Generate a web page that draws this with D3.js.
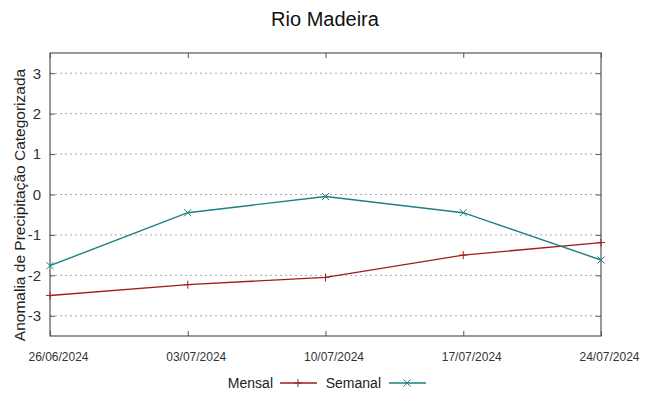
<!DOCTYPE html>
<html>
<head>
<meta charset="utf-8">
<script src="https://cdn.jsdelivr.net/npm/d3@7"></script>
<style>
  body { margin: 0; background: #fff; }
  text { font-family: "Liberation Sans", Arial, sans-serif; }
</style>
</head>
<body>
<script>
const dates = ["26/06/2024", "03/07/2024", "10/07/2024", "17/07/2024", "24/07/2024"];
const mensal = [-2.5, -2.23, -2.05, -1.5, -1.19];
const semanal = [-1.76, -0.45, -0.05, -0.45, -1.62];
const yTicks = [-3, -2, -1, 0, 1, 2, 3];

const width = 649, height = 396;
const margin = {left: 50, right: 48, top: 53, bottom: 60};
const parse = d3.timeParse("%d/%m/%Y");

let svg = d3.select("body").append("svg")
    .attr("width", width)
    .attr("height", height);

let x = d3.scaleTime()
    .domain([parse(dates[0]), parse(dates[dates.length - 1])])
    .range([margin.left, width - margin.right]);

let y = d3.scaleLinear()
    .domain([-3.5, 3.5])
    .range([height - margin.bottom, margin.top]);

// grid
svg.append("g").selectAll("line")
    .data(yTicks)
    .enter().append("line")
    .attr("x1", margin.left).attr("x2", width - margin.right)
    .attr("y1", d => y(d)).attr("y2", d => y(d))
    .attr("stroke", "#aaa")
    .attr("stroke-dasharray", "2,3");

// axes, ticks inward on all sides
let tickDates = dates.map(parse);
let axBottom = svg.append("g")
    .attr("transform", `translate(0,${height - margin.bottom})`)
    .call(d3.axisBottom(x).tickValues(tickDates).tickFormat(d3.timeFormat("%d/%m/%Y")).tickSizeInner(-5).tickSizeOuter(0).tickPadding(16));
let axTop = svg.append("g")
    .attr("transform", `translate(0,${margin.top})`)
    .call(d3.axisTop(x).tickValues(tickDates).tickFormat("").tickSizeInner(-5).tickSizeOuter(0));
let axLeft = svg.append("g")
    .attr("transform", `translate(${margin.left},0)`)
    .call(d3.axisLeft(y).tickValues(yTicks).tickFormat(d => String(d)).tickSizeInner(-5).tickSizeOuter(0).tickPadding(9));
let axRight = svg.append("g")
    .attr("transform", `translate(${width - margin.right},0)`)
    .call(d3.axisRight(y).tickValues(yTicks).tickFormat("").tickSizeInner(-5).tickSizeOuter(0));

[axBottom, axTop, axLeft, axRight].forEach(g => {
    g.select(".domain").remove();
    g.selectAll(".tick line").attr("stroke", "#555");
});
axBottom.selectAll("text").attr("font-size", 12).attr("fill", "#333").attr("dx", 8).attr("font-family", "Liberation Sans");
axLeft.selectAll("text").attr("font-size", 15).attr("fill", "#333").attr("font-family", "Liberation Sans");

svg.append("rect")
    .attr("x", margin.left).attr("y", margin.top)
    .attr("width", width - margin.left - margin.right)
    .attr("height", height - margin.top - margin.bottom)
    .attr("fill", "none")
    .attr("stroke", "#555")
    .attr("stroke-width", 1.2);

// series
let series = [
    {name: "Mensal", values: mensal, color: "#a31c1c", marker: "plus"},
    {name: "Semanal", values: semanal, color: "#1f7f7f", marker: "cross"}
];

let line = d3.line()
    .x((d, i) => x(parse(dates[i])))
    .y(d => y(d));

let drawMarker = function(g, type, cx, cy, color) {
    let s = type == "plus" ? 4 : 3.5;
    if (type == "plus") {
        g.append("path").attr("d", `M${cx - s},${cy}H${cx + s}M${cx},${cy - s}V${cy + s}`)
            .attr("stroke", color).attr("stroke-width", 1);
    } else {
        g.append("path").attr("d", `M${cx - s},${cy - s}L${cx + s},${cy + s}M${cx - s},${cy + s}L${cx + s},${cy - s}`)
            .attr("stroke", color).attr("stroke-width", 1);
    }
}

series.forEach(s => {
    svg.append("path")
        .datum(s.values)
        .attr("d", line)
        .attr("fill", "none")
        .attr("stroke", s.color)
        .attr("stroke-width", 1.4);
    let g = svg.append("g");
    s.values.forEach((v, i) => drawMarker(g, s.marker, x(parse(dates[i])), y(v), s.color));
});

// title
svg.append("text")
    .attr("x", 325).attr("y", 26)
    .attr("text-anchor", "middle")
    .attr("font-size", 20)
    .attr("fill", "#111")
    .text("Rio Madeira");

// y label
svg.append("text")
    .attr("transform", "translate(25,205) rotate(-90)")
    .attr("text-anchor", "middle")
    .attr("font-size", 15.5)
    .attr("fill", "#222")
    .text("Anomalia de Precipitação Categorizada");

// legend
let legend = [{x: 273, lx: 280}, {x: 381, lx: 389}];
series.forEach((s, i) => {
    let ly = 383;
    svg.append("text")
        .attr("x", legend[i].x).attr("y", ly + 5)
        .attr("text-anchor", "end")
        .attr("font-size", 14)
        .attr("fill", "#222")
        .text(s.name);
    svg.append("line")
        .attr("x1", legend[i].lx).attr("x2", legend[i].lx + 37)
        .attr("y1", ly).attr("y2", ly)
        .attr("stroke", s.color).attr("stroke-width", 1.4);
    drawMarker(svg.append("g"), s.marker, legend[i].lx + 18, ly, s.color);
});
</script>
</body>
</html>
